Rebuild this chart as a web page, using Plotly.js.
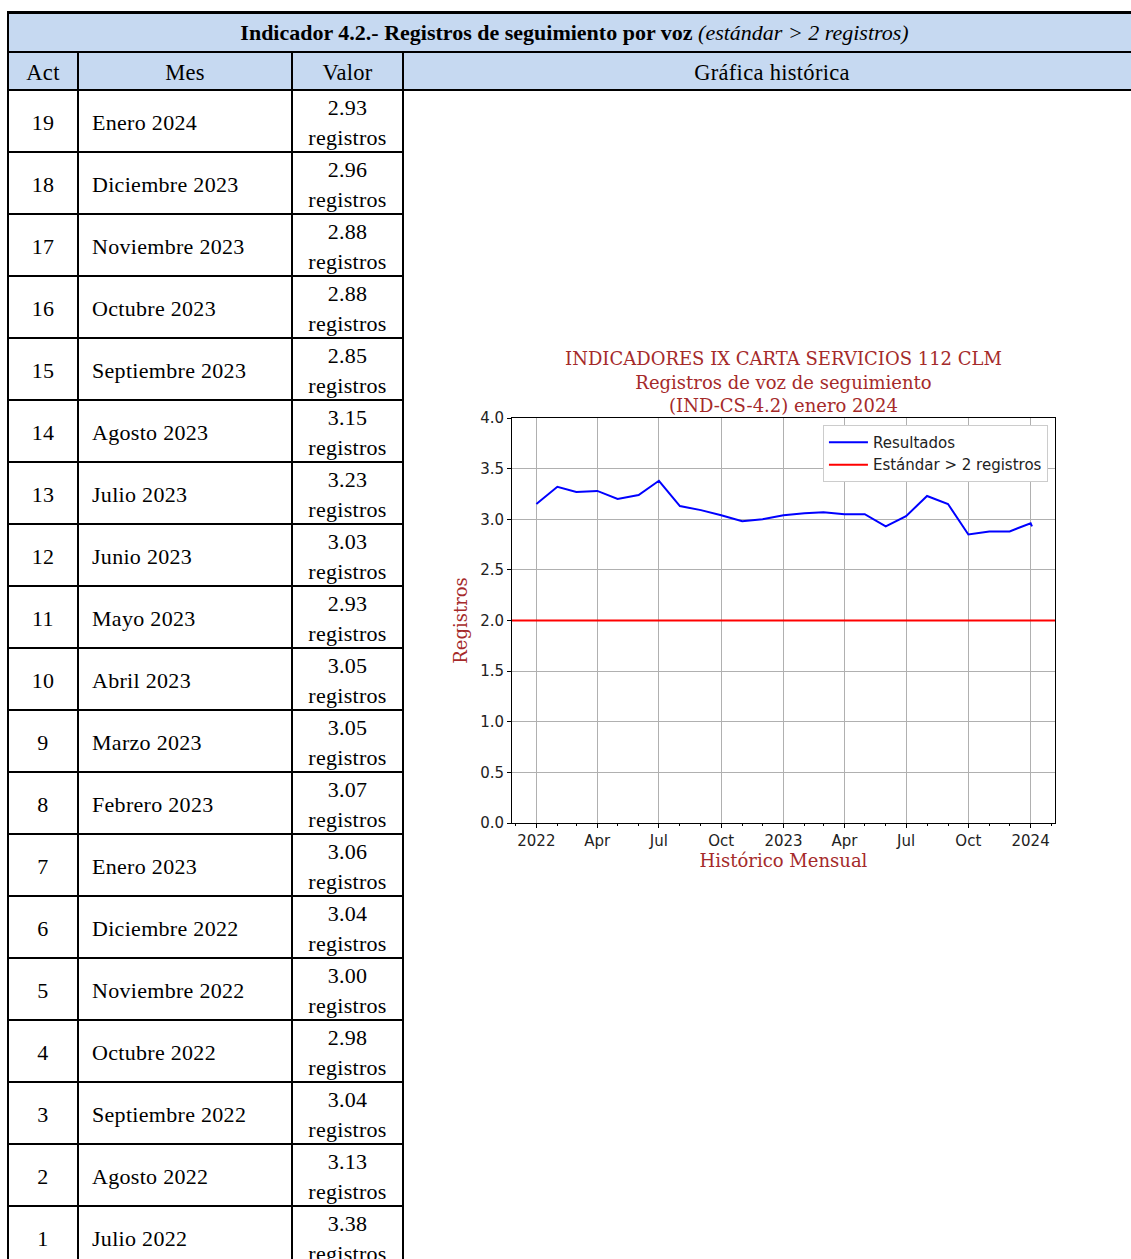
<!DOCTYPE html>
<html>
<head>
<meta charset="utf-8">
<script src="https://cdn.plot.ly/plotly-3.0.1.min.js"></script>
<style>
  html, body { margin: 0; padding: 0; background: #fff; width: 1131px; height: 1259px; overflow: hidden; }
  #tbl { position: absolute; left: 7px; top: 11px; border-collapse: collapse; table-layout: fixed; width: 1135px;
         font-family: "Liberation Serif", serif; font-size: 22px; letter-spacing: 0.3px; color: #000; }
  #tbl td { border: 2px solid #000; padding: 0; }
  #tbl tr.title td { height: 37px; background: #c6d9f1; text-align: center; font-size: 22px; letter-spacing: 0px; border-top: 3px solid #000; }
  #tbl tr.head td { height: 36px; background: #c6d9f1; text-align: center; font-size: 22.5px; }
  #tbl tr.data td { height: 60px; }
  .sh { position: relative; top: 2px; }
  td.act { text-align: center; }
  td.mes { text-align: left; padding-left: 13px !important; }
  td.val { text-align: center; line-height: 30px; }
  #chart { position: absolute; left: 440px; top: 335px; width: 630px; height: 550px; }
</style>
</head>
<body>
<table id="tbl">
  <colgroup><col style="width:70px"><col style="width:214px"><col style="width:111px"><col></colgroup>
  <tbody id="tb"></tbody>
</table>
<div id="chart"></div>
<script>
// ---- Table data ----
const actNums = [19,18,17,16,15,14,13,12,11,10,9,8,7,6,5,4,3,2,1];
const monthNames = ['Enero 2024','Diciembre 2023','Noviembre 2023','Octubre 2023','Septiembre 2023','Agosto 2023',
  'Julio 2023','Junio 2023','Mayo 2023','Abril 2023','Marzo 2023','Febrero 2023','Enero 2023','Diciembre 2022',
  'Noviembre 2022','Octubre 2022','Septiembre 2022','Agosto 2022','Julio 2022'];
const tableValues = ['2.93','2.96','2.88','2.88','2.85','3.15','3.23','3.03','2.93','3.05','3.05','3.07','3.06',
  '3.04','3.00','2.98','3.04','3.13','3.38'];
const unitLabel = 'registros';
const titleBold = 'Indicador 4.2.- Registros de seguimiento por voz';
const titleItalic = '(estándar > 2 registros)';
const headers = ['Act','Mes','Valor','Gráfica histórica'];

// ---- Chart data ----
const chartDates = ['2022-01-01','2022-02-01','2022-03-01','2022-04-01','2022-05-01','2022-06-01','2022-07-01',
  '2022-08-01','2022-09-01','2022-10-01','2022-11-01','2022-12-01','2023-01-01','2023-02-01','2023-03-01',
  '2023-04-01','2023-05-01','2023-06-01','2023-07-01','2023-08-01','2023-09-01','2023-10-01','2023-11-01',
  '2023-12-01','2024-01-01','2024-01-03'];
const chartValues = [3.15,3.32,3.27,3.28,3.20,3.24,3.38,3.13,3.09,3.04,2.98,3.00,3.04,3.06,3.07,3.05,3.05,
  2.93,3.03,3.23,3.15,2.85,2.88,2.88,2.96,2.93];
const standardDates = ['2021-11-26','2024-02-06'];
const standardValues = [2, 2];
const xTickVals = ['2022-01-01','2022-04-01','2022-07-01','2022-10-01','2023-01-01','2023-04-01','2023-07-01','2023-10-01','2024-01-01'];
const xTickText = ['2022','Apr','Jul','Oct','2023','Apr','Jul','Oct','2024'];
const seriesNames = ['Resultados','Estándar > 2 registros'];
const chartTitle = 'INDICADORES IX CARTA SERVICIOS 112 CLM<br>Registros de voz de seguimiento<br>(IND-CS-4.2) enero 2024';
const xTitle = 'Histórico Mensual';
const yTitle = 'Registros';

// ---- Build table ----
const tb = document.getElementById('tb');
const sh = s => '<div class="sh">' + s + '</div>';
let html = '<tr class="title"><td colspan="4"><b>' + titleBold + '</b> <i>' + titleItalic + '</i></td></tr>';
html += '<tr class="head">' + headers.map(h => '<td>' + sh(h) + '</td>').join('') + '</tr>';
actNums.forEach((a, i) => {
  html += '<tr class="data"><td class="act">' + sh(a) + '</td><td class="mes">' + sh(monthNames[i]) + '</td>' +
          '<td class="val">' + sh(tableValues[i] + '<br>' + unitLabel) + '</td>' +
          (i === 0 ? '<td rowspan="' + actNums.length + '"></td>' : '') + '</tr>';
});
tb.innerHTML = html;

// ---- Build chart ----
const red = '#a52a2a';
const traces = [
  { x: chartDates, y: chartValues, type: 'scatter', mode: 'lines', name: seriesNames[0],
    line: { color: '#0000ff', width: 2 } },
  { x: standardDates, y: standardValues, type: 'scatter', mode: 'lines', name: seriesNames[1],
    line: { color: '#ff0000', width: 2 } }
];
const layout = {
  width: 630, height: 550,
  margin: { l: 72, r: 15, t: 83, b: 62 },
  paper_bgcolor: 'rgba(0,0,0,0)', plot_bgcolor: '#fff',
  showlegend: true,
  title: { text: chartTitle, font: { family: 'DejaVu Serif', size: 18, color: red },
           x: 0.5, xref: 'paper', xanchor: 'center', y: 0.945, yref: 'container', yanchor: 'top' },
  font: { family: 'DejaVu Sans', size: 15, color: '#222' },
  xaxis: {
    type: 'date', range: ['2021-11-26', '2024-02-06'],
    tickmode: 'array', tickvals: xTickVals, ticktext: xTickText,
    ticks: 'outside', ticklen: 4, tickcolor: '#000', tickwidth: 1,
    showgrid: true, gridcolor: '#b0b0b0', gridwidth: 1,
    showline: true, mirror: true, linecolor: '#000', linewidth: 1, zeroline: false,
    minor: { dtick: 'M1', tick0: '2022-01-01', ticks: 'outside', ticklen: 2, tickcolor: '#000', showgrid: false },
    tickfont: { family: 'DejaVu Sans', size: 15, color: '#222' },
    title: { text: xTitle, font: { family: 'DejaVu Serif', size: 18, color: red }, standoff: 5 }
  },
  yaxis: {
    range: [0, 4], dtick: 0.5, tick0: 0, tickformat: '.1f',
    ticks: 'outside', ticklen: 4, tickcolor: '#000', tickwidth: 1,
    showgrid: true, gridcolor: '#b0b0b0', gridwidth: 1,
    showline: true, mirror: true, linecolor: '#000', linewidth: 1, zeroline: false,
    tickfont: { family: 'DejaVu Sans', size: 15, color: '#222' },
    title: { text: yTitle, font: { family: 'DejaVu Serif', size: 18, color: red }, standoff: 7 }
  },
  legend: { x: 0.987, y: 0.983, xanchor: 'right', yanchor: 'top', bgcolor: '#fff', bordercolor: '#cccccc',
            borderwidth: 1, itemwidth: 39, font: { family: 'DejaVu Sans', size: 15, color: '#222' } }
};
Plotly.newPlot('chart', traces, layout, { displayModeBar: false, staticPlot: true });
</script>
</body>
</html>
